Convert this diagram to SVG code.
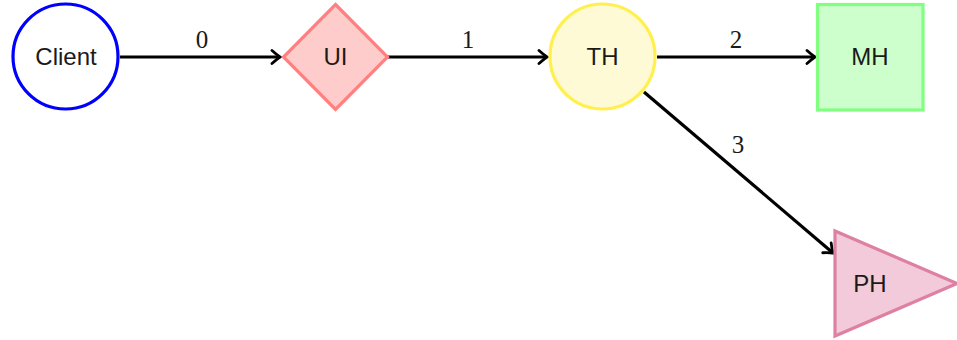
<svg xmlns="http://www.w3.org/2000/svg" width="957" height="340" viewBox="0 0 957 340">
<style>
.lbl{font-family:"Liberation Sans","DejaVu Sans",sans-serif;font-size:24px;fill:#1a1a1a;text-anchor:middle}
.num{font-family:"Liberation Serif","DejaVu Serif",serif;font-size:25px;fill:#1a1a1a;text-anchor:middle}
.edge{stroke:#000;stroke-width:3.2;fill:none;marker-end:url(#arr)}
</style>
<defs>
<marker id="arr" markerUnits="userSpaceOnUse" viewBox="-10 -8 12 16" refX="0" refY="0" markerWidth="12" markerHeight="16" orient="auto">
<path d="M-8,-6.5 Q-3,-2 0,0 Q-3,2 -8,6.5" fill="none" stroke="#000" stroke-width="2.8" stroke-linecap="round"/>
</marker>
</defs>
<rect width="957" height="340" fill="#fff"/>
<g id="connectors">
<line class="edge" x1="120" y1="57" x2="280" y2="57"/>
<line class="edge" x1="388" y1="57" x2="547" y2="57"/>
<line class="edge" x1="657" y1="57" x2="815" y2="57"/>
<line class="edge" x1="644" y1="92" x2="833" y2="253"/>
<text class="num" x="202" y="48">0</text>
<text class="num" x="468" y="48">1</text>
<text class="num" x="736" y="48">2</text>
<text class="num" x="738" y="153">3</text>
</g>
<g id="client">
<circle cx="65.5" cy="56.5" r="52.5" fill="#fff" stroke="#0000ff" stroke-width="3.2"/>
<text class="lbl" x="66" y="65">Client</text>
</g>
<g id="ui">
<polygon points="335.5,4.5 387.5,57 335.5,109.5 283.5,57" fill="#ffcccc" stroke="#ff8080" stroke-width="3.2"/>
<text class="lbl" x="335.5" y="65">UI</text>
</g>
<g id="th">
<circle cx="602.5" cy="56.5" r="52.5" fill="#fffad6" stroke="#fff04d" stroke-width="3.2"/>
<text class="lbl" x="602.5" y="65">TH</text>
</g>
<g id="mh">
<rect x="817.5" y="4.5" width="105.5" height="105.5" fill="#ccffcc" stroke="#80ff80" stroke-width="3.2"/>
<text class="lbl" x="870" y="65">MH</text>
</g>
<g id="ph">
<polygon points="835,231 835,336 957,283.5" fill="#f2cad9" stroke="#dd80a2" stroke-width="3.2"/>
<text class="lbl" x="870" y="292">PH</text>
</g>
</svg>
